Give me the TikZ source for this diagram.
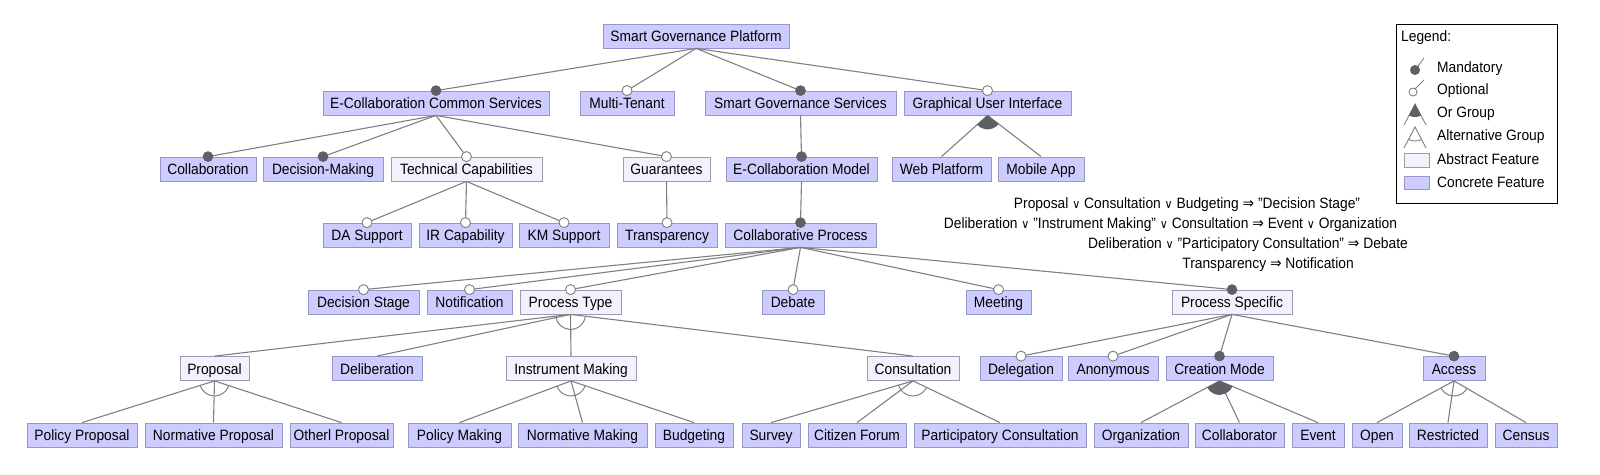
\documentclass[tikz,border=0pt]{standalone}
\usepackage{fontspec}
\setmainfont{Liberation Sans}[FakeStretch=0.92]
\newfontfamily\symf{DejaVu Sans}[FakeStretch=0.92]
\usetikzlibrary{calc}
\definecolor{edgec}{RGB}{128,128,128}
\definecolor{concf}{RGB}{204,204,255}
\definecolor{concb}{RGB}{150,150,200}
\definecolor{abstf}{RGB}{242,242,255}
\definecolor{abstb}{RGB}{155,155,175}
\definecolor{dotc}{RGB}{95,95,102}
\newcommand{\fsz}{\fontsize{15}{18}\selectfont}
\newcommand{\orsym}{{\symf\fontsize{12}{14}\selectfont ∨}}
\newcommand{\impsym}{{\symf ⇒}}
\tikzset{
  conc/.style={draw=concb, fill=concf, minimum height=24pt, inner sep=0pt, font=\fsz, line width=0.8pt, text height=13pt, text depth=1.5pt},
  abst/.style={draw=abstb, fill=abstf, minimum height=24pt, inner sep=0pt, font=\fsz, line width=0.8pt, text height=13pt, text depth=1.5pt},
  edge/.style={draw=edgec, line width=1.1pt},
  mandot/.style={fill=dotc, draw=dotc, line width=0.6pt},
  optdot/.style={fill=white, draw=edgec, line width=0.9pt},
  ordot/.style={fill=dotc},
  ctext/.style={font=\fsz, inner sep=0pt},
  legtext/.style={font=\fsz, inner sep=0pt, anchor=west}
}
\newcommand{\Mand}[2]{\draw[edge] (#1.south) -- (#2.north); \filldraw[mandot] (#2.north) circle[radius=5pt];}
\newcommand{\Opt}[2]{\draw[edge] (#1.south) -- (#2.north); \filldraw[optdot] (#2.north) circle[radius=5pt];}
\newcommand{\Grp}[2]{\draw[edge] (#1.south) -- (#2.north);}
\newcommand{\AltArc}[3]{\draw[edge, line width=1pt] let \p1=(#1.south), \p2=(#2.north), \p3=(#3.north),
  \n1={atan2(\y2-\y1,\x2-\x1)}, \n2={atan2(\y3-\y1,\x3-\x1)} in
  (\p1) ++(\n2:15pt) arc[start angle=\n2, end angle=\n1, radius=15pt];}
\newcommand{\OrArc}[3]{\fill[ordot] let \p1=(#1.south), \p2=(#2.north), \p3=(#3.north),
  \n1={atan2(\y2-\y1,\x2-\x1)}, \n2={atan2(\y3-\y1,\x3-\x1)} in
  (\p1) -- ++(\n2:14pt) arc[start angle=\n2, end angle=\n1, radius=14pt] -- cycle;}
\begin{document}
\begin{tikzpicture}[x=1pt, y=-1pt]
\fill[white] (0,0) rectangle (1600,474);
\useasboundingbox (0,0) rectangle (1600,474);
% row 1
\node[conc, minimum width=186pt] (sgp) at (696,36) {Smart Governance Platform};
% row 2
\node[conc, minimum width=226pt] (ecs) at (436,103) {E-Collaboration Common Services};
\node[conc, minimum width=94pt] (mt) at (627,103) {Multi-Tenant};
\node[conc, minimum width=191pt] (sgs) at (800.5,103) {Smart Governance Services};
\node[conc, minimum width=167pt] (gui) at (987.5,103) {Graphical User Interface};
% row 3
\node[conc, minimum width=96pt] (col) at (208,169) {Collaboration};
\node[conc, minimum width=120pt] (dm) at (323,169) {Decision-Making};
\node[abst, minimum width=151pt] (tc) at (466.5,169) {Technical Capabilities};
\node[abst, minimum width=87pt] (gua) at (666.5,169) {Guarantees};
\node[conc, minimum width=151pt] (ecm) at (801.5,169) {E-Collaboration Model};
\node[conc, minimum width=99pt] (web) at (941.5,169) {Web Platform};
\node[conc, minimum width=86pt] (mob) at (1041,169) {Mobile App};
% row 4
\node[conc, minimum width=88pt] (da) at (367,235) {DA Support};
\node[conc, minimum width=93pt] (ir) at (465.5,235) {IR Capability};
\node[conc, minimum width=90pt] (km) at (564,235) {KM Support};
\node[conc, minimum width=100pt] (tr) at (667,235) {Transparency};
\node[conc, minimum width=151pt] (cp) at (800.5,235) {Collaborative Process};
% row 5
\node[conc, minimum width=111pt] (ds) at (363.5,302) {Decision Stage};
\node[conc, minimum width=85pt] (no) at (469.5,302) {Notification};
\node[abst, minimum width=101pt] (pt) at (570.5,302) {Process Type};
\node[conc, minimum width=62pt] (deb) at (793,302) {Debate};
\node[conc, minimum width=65pt] (mee) at (998.5,302) {Meeting};
\node[abst, minimum width=120pt] (ps) at (1232,302) {Process Specific};
% row 6
\node[abst, minimum width=69pt] (pro) at (214.5,368.5) {Proposal};
\node[conc, minimum width=90pt] (del) at (377,368.5) {Deliberation};
\node[abst, minimum width=130pt] (im) at (571,368.5) {Instrument Making};
\node[abst, minimum width=92pt] (con) at (913,368.5) {Consultation};
\node[conc, minimum width=82pt] (dlg) at (1021,368.5) {Delegation};
\node[conc, minimum width=90pt] (ano) at (1113,368.5) {Anonymous};
\node[conc, minimum width=107pt] (cm) at (1219.5,368.5) {Creation Mode};
\node[conc, minimum width=62pt] (acc) at (1454,368.5) {Access};
% row 7
\node[conc, minimum width=110pt] (pp) at (82,435) {Policy Proposal};
\node[conc, minimum width=137pt] (np) at (213.5,435) {Normative Proposal};
\node[conc, minimum width=103pt] (op) at (341.5,435) {Otherl Proposal};
\node[conc, minimum width=103pt] (pm) at (459.5,435) {Policy Making};
\node[conc, minimum width=129pt] (nm) at (582.5,435) {Normative Making};
\node[conc, minimum width=78pt] (bud) at (694,435) {Budgeting};
\node[conc, minimum width=58pt] (sur) at (771,435) {Survey};
\node[conc, minimum width=98pt] (cf) at (857,435) {Citizen Forum};
\node[conc, minimum width=172pt] (pc) at (1000,435) {Participatory Consultation};
\node[conc, minimum width=94pt] (org) at (1141,435) {Organization};
\node[conc, minimum width=89pt] (cola) at (1239.5,435) {Collaborator};
\node[conc, minimum width=52pt] (ev) at (1318,435) {Event};
\node[conc, minimum width=50pt] (opn) at (1377,435) {Open};
\node[conc, minimum width=78pt] (res) at (1448,435) {Restricted};
\node[conc, minimum width=62pt] (cen) at (1526,435) {Census};
% edges
\Mand{sgp}{ecs} \Opt{sgp}{mt} \Mand{sgp}{sgs} \Opt{sgp}{gui}
\Mand{ecs}{col} \Mand{ecs}{dm} \Opt{ecs}{tc} \Opt{ecs}{gua}
\Mand{sgs}{ecm}
\Grp{gui}{web} \Grp{gui}{mob} \OrArc{gui}{web}{mob}
\Opt{tc}{da} \Opt{tc}{ir} \Opt{tc}{km}
\Opt{gua}{tr}
\Mand{ecm}{cp}
\Opt{cp}{ds} \Opt{cp}{no} \Opt{cp}{pt} \Opt{cp}{deb} \Opt{cp}{mee} \Mand{cp}{ps}
\Grp{pt}{pro} \Grp{pt}{del} \Grp{pt}{im} \Grp{pt}{con} \AltArc{pt}{pro}{con}
\Grp{pro}{pp} \Grp{pro}{np} \Grp{pro}{op} \AltArc{pro}{pp}{op}
\Grp{im}{pm} \Grp{im}{nm} \Grp{im}{bud} \AltArc{im}{pm}{bud}
\Grp{con}{sur} \Grp{con}{cf} \Grp{con}{pc} \AltArc{con}{sur}{pc}
\Opt{ps}{dlg} \Opt{ps}{ano} \Mand{ps}{cm} \Mand{ps}{acc}
\Grp{cm}{org} \Grp{cm}{cola} \Grp{cm}{ev} \OrArc{cm}{org}{ev}
\Grp{acc}{opn} \Grp{acc}{res} \Grp{acc}{cen} \AltArc{acc}{opn}{cen}
% constraints
\node[ctext] (c1) at (1187,205) {Proposal \orsym{} Consultation \orsym{} Budgeting \impsym{} "Decision Stage"};
\node[ctext] (c2) at (1170.5,225) {Deliberation \orsym{} "Instrument Making" \orsym{} Consultation \impsym{} Event \orsym{} Organization};
\node[ctext] (c3) at (1248,245) {Deliberation \orsym{} "Participatory Consultation" \impsym{} Debate};
\node[ctext] (c4) at (1268,265) {Transparency \impsym{} Notification};
% legend
\node[draw=black, line width=0.9pt, minimum width=161pt, minimum height=179pt, inner sep=0pt] (legend) at (1476.5,113.5) {};
\node[legtext] (lt) at (1401,38) {Legend:};
\node[legtext] (l1) at (1437,69) {Mandatory};
\node[legtext] (l2) at (1437,91) {Optional};
\node[legtext] (l3) at (1437,114) {Or Group};
\node[legtext] (l4) at (1437,137) {Alternative Group};
\node[legtext] (l5) at (1437,159) {Abstract Feature};
\node[legtext] (l6) at (1437,182) {Concrete Feature};
% legend icons
\draw[edgec, line width=0.9pt] (1415,70) -- (1424,58);
\fill[dotc] (1415,70) circle[radius=5pt];
\draw[edgec, line width=0.9pt] (1415,89) -- (1424,80);
\draw[edgec, line width=0.9pt, fill=white] (1413,92) circle[radius=4pt];
\draw[edgec, line width=0.9pt] (1404,125) -- (1415,104) -- (1426,125);
\fill[dotc] (1415,104) -- ++(62.4:13) arc[start angle=62.4, end angle=117.6, radius=13] -- cycle;
\draw[edgec, line width=0.9pt] (1404,148) -- (1415,127) -- (1426,148);
\draw[edgec, line width=0.9pt] (1415,127) ++(62.4:14) arc[start angle=62.4, end angle=117.6, radius=14];
\draw[draw=abstb, fill=abstf, line width=0.7pt] (1404,153) rectangle (1429,167);
\draw[draw=concb, fill=concf, line width=0.7pt] (1404,176) rectangle (1429,189);
\end{tikzpicture}
\end{document}
